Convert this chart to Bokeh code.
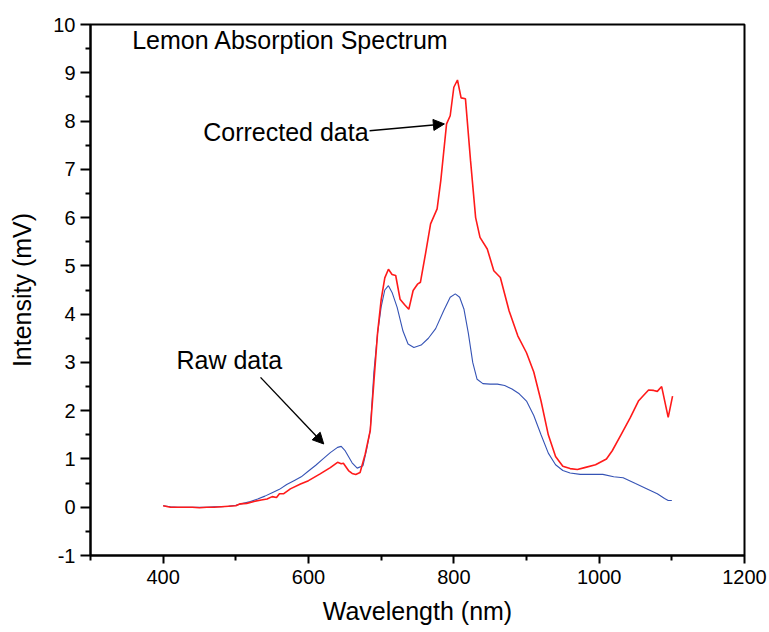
from bokeh.plotting import figure
from bokeh.models import Range1d, FixedTicker, Label, Arrow, NormalHead
from bokeh.embed import file_html
from bokeh.resources import INLINE

# ---- data ----
wavelength_raw = [400, 410, 420, 430, 440, 450, 460, 470, 480, 490, 500, 510, 520, 530, 540,
                  550, 560, 570, 580, 590, 600, 610, 620, 630, 640, 645, 650, 655, 660, 667,
                  675, 680, 685, 690, 695, 700, 705, 710, 715, 722, 730, 737, 745, 755, 765,
                  775, 786, 795, 802, 808, 814, 820, 826, 832, 840, 850, 860, 870, 880, 890,
                  900, 910, 920, 930, 940, 950, 960, 974, 990, 1005, 1020, 1033, 1050, 1066,
                  1080, 1090, 1095, 1100]
intensity_raw = [0.03, 0.01, 0.0, 0.0, 0.0, 0.0, 0.0, 0.01, 0.01, 0.02, 0.04, 0.08, 0.12, 0.17, 0.23,
                 0.30, 0.37, 0.47, 0.55, 0.63, 0.75, 0.87, 1.00, 1.13, 1.24, 1.26, 1.18, 1.05, 0.92, 0.81,
                 0.86, 1.20, 1.60, 2.80, 3.60, 4.15, 4.50, 4.59, 4.45, 4.14, 3.65, 3.38, 3.31, 3.36, 3.50,
                 3.70, 4.07, 4.35, 4.42, 4.35, 4.10, 3.60, 3.00, 2.65, 2.56, 2.55, 2.55, 2.52, 2.45, 2.35,
                 2.20, 1.90, 1.50, 1.12, 0.88, 0.76, 0.71, 0.68, 0.68, 0.68, 0.63, 0.61, 0.49, 0.38,
                 0.28, 0.18, 0.14, 0.14]

wavelength_corr = [400, 410, 420, 430, 440, 450, 460, 470, 480, 490, 500, 506, 515, 525, 535,
                   543, 550, 556, 560, 566, 575, 589, 600, 616, 630, 640, 645, 648, 655, 660,
                   665, 671, 678, 685, 690, 695, 700, 705, 710, 715, 720, 726, 732, 738, 744,
                   750, 754, 761, 768, 777, 782, 790, 795, 800, 805, 810, 816, 823, 830, 836,
                   846, 855, 864, 876, 888, 900, 910, 920, 930, 940, 950, 960, 970, 980, 995,
                   1010, 1018, 1030, 1043, 1054, 1060, 1068, 1075, 1080, 1086, 1095, 1101]
intensity_corr = [0.03, 0.0, 0.0, 0.0, 0.0, -0.01, 0.0, 0.0, 0.01, 0.02, 0.03, 0.07, 0.08, 0.12, 0.15,
                  0.17, 0.22, 0.20, 0.28, 0.28, 0.38, 0.48, 0.55, 0.69, 0.82, 0.93, 0.90, 0.91, 0.76, 0.70,
                  0.68, 0.72, 1.10, 1.59, 2.60, 3.60, 4.30, 4.75, 4.93, 4.82, 4.80, 4.31, 4.20, 4.10, 4.49,
                  4.62, 4.66, 5.25, 5.87, 6.18, 6.76, 7.94, 8.11, 8.70, 8.85, 8.48, 8.46, 7.18, 6.00, 5.59,
                  5.35, 4.90, 4.76, 4.07, 3.55, 3.20, 2.80, 2.20, 1.50, 1.05, 0.85, 0.80, 0.78, 0.82, 0.88,
                  1.00, 1.17, 1.50, 1.86, 2.20, 2.30, 2.43, 2.42, 2.40, 2.50, 1.86, 2.30]

x_major_ticks = [400, 600, 800, 1000, 1200]
x_minor_ticks = [300, 500, 700, 900, 1100]
y_major_ticks = [-1, 0, 1, 2, 3, 4, 5, 6, 7, 8, 9, 10]
y_minor_ticks = [-0.5, 0.5, 1.5, 2.5, 3.5, 4.5, 5.5, 6.5, 7.5, 8.5, 9.5]
y_tick_labels = ["-1", "0", "1", "2", "3", "4", "5", "6", "7", "8", "9", "10"]

title_text = "Lemon Absorption Spectrum"
x_label = "Wavelength (nm)"
y_label = "Intensity (mV)"

FONT = "Liberation Sans"

p = figure(width=769, height=632, output_backend="svg", toolbar_location=None,
           x_range=Range1d(300, 1200), y_range=Range1d(-1, 10),
           min_border_left=90, min_border_right=25, min_border_top=24, min_border_bottom=77,
           background_fill_color="white", border_fill_color="white")

p.xgrid.visible = False
p.ygrid.visible = False
p.outline_line_color = "black"
p.outline_line_width = 2
p.outline_line_alpha = 1.0

p.xaxis.ticker = FixedTicker(ticks=x_major_ticks, minor_ticks=x_minor_ticks)
p.yaxis.ticker = FixedTicker(ticks=y_major_ticks, minor_ticks=y_minor_ticks)
p.yaxis.major_label_overrides = {t: s for t, s in zip(y_major_ticks, y_tick_labels)}

for ax in (p.xaxis, p.yaxis):
    ax.axis_line_color = "black"
    ax.axis_line_width = 2
    ax.major_tick_line_color = "black"
    ax.minor_tick_line_color = "black"
    ax.major_tick_line_width = 2
    ax.minor_tick_line_width = 2
    ax.major_tick_in = 0
    ax.minor_tick_in = 0
    ax.minor_tick_out = 5
    ax.major_label_text_font = FONT
    ax.major_label_text_font_size = "20px"
    ax.major_label_text_color = "black"
    ax.axis_label_text_font = FONT
    ax.axis_label_text_font_size = "25px"
    ax.axis_label_text_font_style = "normal"
    ax.axis_label_text_color = "black"

p.xaxis.major_tick_out = 8
p.yaxis.major_tick_out = 10
p.xaxis.major_label_standoff = 6
p.yaxis.major_label_standoff = 5
p.xaxis.axis_label = x_label
p.yaxis.axis_label = y_label
p.xaxis.axis_label_standoff = 10
p.yaxis.axis_label_standoff = 14

p.line(wavelength_raw, intensity_raw, line_color="#3553b5", line_width=1.1)
p.line(wavelength_corr, intensity_corr, line_color="#ff1a1a", line_width=1.6)

p.add_layout(Label(x=357.4, y=9.39, text=title_text, text_font=FONT,
                   text_font_size="25px", text_color="black"))
p.add_layout(Label(x=455.1, y=7.49, text="Corrected data", text_font=FONT,
                   text_font_size="25px", text_color="black"))
p.add_layout(Label(x=418.3, y=2.77, text="Raw data", text_font=FONT,
                   text_font_size="25px", text_color="black"))

p.add_layout(Arrow(end=NormalHead(size=11, fill_color="black", line_color="black"),
                   x_start=684, y_start=7.80, x_end=787, y_end=7.94,
                   line_color="black", line_width=1.4))
p.add_layout(Arrow(end=NormalHead(size=11, fill_color="black", line_color="black"),
                   x_start=534, y_start=2.69, x_end=621, y_end=1.31,
                   line_color="black", line_width=1.4))

open("out.html", "w").write(file_html(p, INLINE))
